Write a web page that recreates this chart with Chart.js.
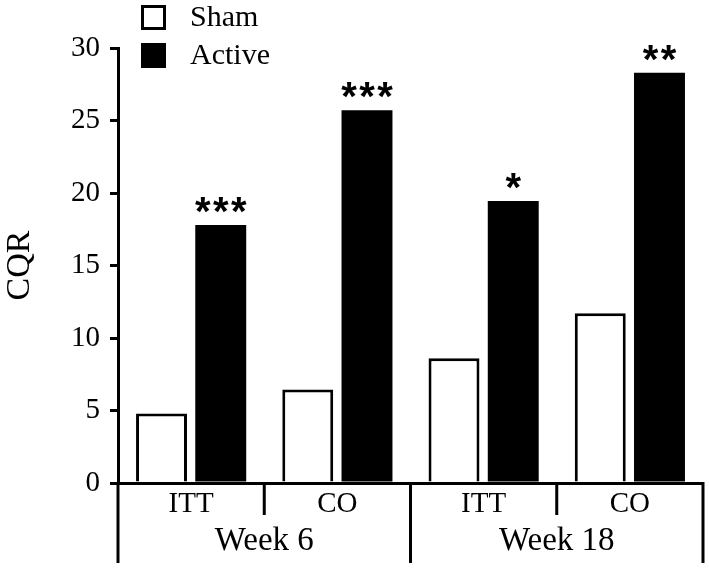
<!DOCTYPE html>
<html>
<head>
<meta charset="utf-8">
<script src="https://cdn.jsdelivr.net/npm/chart.js@4.4.1/dist/chart.umd.min.js"></script>
<style>
  html, body { margin: 0; padding: 0; background: #fff; }
  #wrap { width: 709px; height: 568px; }
</style>
</head>
<body>
<div id="wrap"><canvas id="chart"></canvas></div>
<script>
// Values
const groups = ['ITT', 'CO', 'ITT', 'CO'];
const weeks = ['Week 6', 'Week 18'];
const shamValues = [4.8, 6.45, 8.6, 11.7];
const activeValues = [17.8, 25.7, 19.45, 28.3];
const activeStars = ['***', '***', '*', '**'];
const yTicks = [0, 5, 10, 15, 20, 25, 30];

const SERIF = "'Liberation Serif', 'Times New Roman', serif";

// Two-level x axis: ITT / CO under each week, with divider lines
const groupAxis = {
  id: 'groupAxis',
  afterDraw(chart) {
    const { ctx, chartArea, scales: { x } } = chart;
    const half = (x.getPixelForValue(1) - x.getPixelForValue(0)) / 2;
    const y0 = chartArea.bottom;
    ctx.save();
    ctx.strokeStyle = '#000';
    ctx.lineWidth = 3;
    ctx.fillStyle = '#000';
    ctx.textAlign = 'center';
    ctx.textBaseline = 'middle';

    const vline = (px, len) => {
      ctx.beginPath();
      ctx.moveTo(px, y0 - 1);
      ctx.lineTo(px, y0 + len);
      ctx.stroke();
    };

    ctx.font = `29px ${SERIF}`;
    groups.forEach((g, i) => {
      const cx = x.getPixelForValue(i);
      ctx.fillText(g, cx, y0 + 21);
      vline(cx - half, i % 2 === 0 ? 80 : 32);
    });
    vline(x.getPixelForValue(groups.length - 1) + half, 80);

    ctx.font = `33px ${SERIF}`;
    weeks.forEach((w, j) => {
      const mid = x.getPixelForValue(j * 2) + half;
      ctx.fillText(w, mid, y0 + 58);
    });
    ctx.restore();
  }
};

// Stacked square legend in the top-left corner
const boxLegend = {
  id: 'boxLegend',
  afterDraw(chart) {
    const ctx = chart.ctx;
    ctx.save();
    chart.data.datasets.forEach((ds, i) => {
      const top = 5 + i * 38;
      ctx.fillStyle = ds.backgroundColor;
      ctx.fillRect(141, top, 25, 25);
      if (ds.borderWidth) {
        ctx.lineWidth = 3;
        ctx.strokeStyle = '#000';
        ctx.strokeRect(142.5, top + 1.5, 22, 22);
      }
      ctx.fillStyle = '#000';
      ctx.font = `30px ${SERIF}`;
      ctx.textAlign = 'left';
      ctx.textBaseline = 'middle';
      ctx.fillText(ds.label, 190, top + 13);
    });
    ctx.restore();
  }
};

// Significance stars above the Active bars
const starLabels = {
  id: 'starLabels',
  afterDatasetsDraw(chart) {
    const ctx = chart.ctx;
    const meta = chart.getDatasetMeta(1);
    ctx.save();
    ctx.fillStyle = '#000';
    ctx.font = "bold 40px 'Liberation Sans', Arial, sans-serif";
    ctx.textAlign = 'center';
    ctx.textBaseline = 'alphabetic';
    const m = ctx.measureText('*');
    const step = 18;
    meta.data.forEach((bar, i) => {
      const s = activeStars[i];
      const startX = bar.x - (s.length - 1) * step / 2;
      const baseY = bar.y - 12 - m.actualBoundingBoxDescent;
      for (let k = 0; k < s.length; k++) {
        ctx.fillText('*', startX + k * step, baseY);
      }
    });
    ctx.restore();
  }
};

new Chart(document.getElementById('chart'), {
  type: 'bar',
  data: {
    labels: groups,
    datasets: [
      {
        label: 'Sham',
        data: shamValues,
        backgroundColor: '#ffffff',
        borderColor: '#000000',
        borderWidth: 3
      },
      {
        label: 'Active',
        data: activeValues,
        backgroundColor: '#000000',
        borderWidth: 0
      }
    ]
  },
  options: {
    responsive: true,
    maintainAspectRatio: false,
    animation: false,
    categoryPercentage: 0.81,
    barPercentage: 0.86,
    layout: { padding: { left: 0, right: 6, top: 48, bottom: 0 } },
    plugins: {
      legend: { display: false },
      tooltip: { enabled: false }
    },
    scales: {
      x: {
        grid: { display: false },
        border: { display: true, color: '#000', width: 3 },
        ticks: { display: false },
        afterFit: s => { s.height = 85; }
      },
      y: {
        min: 0,
        max: 30,
        afterBuildTicks: s => { s.ticks = yTicks.map(v => ({ value: v })); },
        afterFit: s => { s.width = 118; },
        grid: {
          display: true,
          drawOnChartArea: false,
          drawTicks: true,
          tickLength: 8,
          lineWidth: 3,
          color: '#000'
        },
        border: { display: true, color: '#000', width: 3 },
        ticks: {
          color: '#000',
          padding: 10,
          font: { family: SERIF, size: 29 }
        },
        title: {
          display: true,
          text: 'CQR',
          color: '#000',
          padding: { top: 0, bottom: 0 },
          font: { family: SERIF, size: 34 }
        }
      }
    }
  },
  plugins: [groupAxis, boxLegend, starLabels]
});
</script>
</body>
</html>
